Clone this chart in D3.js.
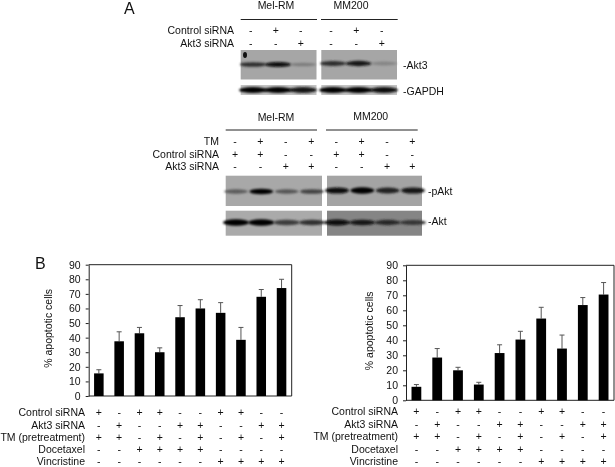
<!DOCTYPE html>
<html><head><meta charset="utf-8">
<script src="https://cdn.jsdelivr.net/npm/d3@7"></script>
<style>
html,body{margin:0;padding:0;background:#fff}
svg{display:block;filter:blur(0.4px)}
text{font-family:"Liberation Sans",Arial,sans-serif;fill:#111}
</style></head><body>
<svg id="c" width="615" height="467"></svg>
<script>
// ---- data ----
const treatments = ["Control siRNA","Akt3 siRNA","TM (pretreatment)","Docetaxel","Vincristine"];
const conditions = [0,1,2,3,4,5,6,7,8,9];
const leftValues  = [15.5,37.5,43,30,54,60,57,38.5,68,74];
const leftUpper   = [18,44,47,33,62,66,64,47,73,80];
const rightValues = [9,28.5,20,10.5,31.5,40.5,54.5,34.5,63.5,70.5];
const rightUpper  = [10.5,34.5,22,12,37,46,62,43.5,68.5,78.5];
const yTicks = [0,10,20,30,40,50,60,70,80,90];
const rowControl = "+-++--++--";
const rowAkt3    = "-+--++--++";
const rowTM      = "++-+-+-+-+";
const rowDoce    = "--++++----";
const rowVinc    = "------++++";
const bRows = [rowControl,rowAkt3,rowTM,rowDoce,rowVinc];
const cellLines = ["Mel-RM","MM200"];
const aTopLabels = ["Control siRNA","Akt3 siRNA"];
const aTopRows = ["-+-","--+"];
const aBotLabels = ["TM","Control siRNA","Akt3 siRNA"];
const aBotRows = ["-+-+","++--","--++"];
// band intensity (0 none – 1 black) per lane
const akt3Mel = [.72,.95,.25], akt3MM = [.72,.85,.2];
const gapdhMel = [1,1,.9], gapdhMM = [1,1,.95];
const pAktMel = [.45,1,.5,.6], pAktMM = [.9,1,.8,.85];
const aktMel = [1,1,.65,.7], aktMM = [.95,.85,.7,.6];

const svg = d3.select("#c");
const defs = svg.append("defs");
defs.append("filter").attr("id","bl").attr("x","-30%").attr("y","-100%").attr("width","160%").attr("height","300%")
  .append("feGaussianBlur").attr("stdDeviation","1.3 1");
const ink = d3.scaleLinear().domain([0,1]);

function txt(x,y,s,anchor,size){
  return svg.append("text").attr("x",x).attr("y",y).attr("text-anchor",anchor||"start")
    .attr("dominant-baseline","central").attr("font-size",size||10.5).text(s);
}
function signRow(xs,y,row){
  [...row].forEach((c,i)=>txt(xs(i),y,c==="+"?"+":"-","middle",10.5));
}
// ---- blot panel ----
function blot(x0,x1,y0,y1,bg,vals,lanes,bandH,bandW,bandY){
  const g = svg.append("g");
  g.append("rect").attr("x",x0).attr("y",y0).attr("width",x1-x0).attr("height",y1-y0).attr("fill",bg);
  const x = d3.scalePoint().domain(d3.range(vals.length)).range(lanes);
  const c = ink.copy().range([bg,"#000"]);
  g.selectAll("ellipse").data(vals).join("ellipse")
    .attr("cx",(d,i)=>x(i)).attr("cy",bandY)
    .attr("rx",bandW).attr("ry",d=>bandH*(0.6+0.4*d))
    .attr("fill",d=>c(d)).attr("filter","url(#bl)");
  return g;
}
// ---- panel A top ----
txt(124,8,"A","start",16);
txt(276,5,cellLines[0],"middle",10.5);
txt(351,5,cellLines[1],"middle",10.5);
const hr=(a,b,y)=>svg.append("line").attr("x1",a).attr("x2",b).attr("y1",y).attr("y2",y).attr("stroke","#222").attr("stroke-width",1);
hr(240.7,317,19.5); hr(321,397.7,19.5);
const lanesA1 = d3.scalePoint().domain([0,1,2]).range([250.7,300.7]);
const lanesA2 = d3.scalePoint().domain([0,1,2]).range([331,381.7]);
aTopLabels.forEach((l,k)=>{
  const y = 30+k*13;
  txt(234,y,l,"end");
  signRow(lanesA1,y,aTopRows[k]); signRow(lanesA2,y,aTopRows[k]);
});
blot(240.7,316.5,50,79.5,"#a6a6a6",akt3Mel,[253,303],2.6,13,64.5)
  .append("ellipse").attr("cx",245).attr("cy",55).attr("rx",2).attr("ry",3).attr("fill","#111");
blot(321.3,397,50,79.5,"#a6a6a6",akt3MM,[333,384],2.8,13,63.5);
blot(240.7,316.5,85,95,"#c4c4c4",gapdhMel,[253,303],3,14,90);
blot(321.3,397,85,95,"#c4c4c4",gapdhMM,[333,384],3,14,90);
txt(403,65,"-Akt3"); txt(403,91,"-GAPDH");
// ---- panel A bottom ----
txt(276,117,cellLines[0],"middle",10.5);
txt(370.7,116,cellLines[1],"middle",10.5);
hr(225.7,317,130); hr(326,417.7,130);
const lanesB1 = d3.scalePoint().domain([0,1,2,3]).range([235,311.3]);
const lanesB2 = d3.scalePoint().domain([0,1,2,3]).range([336.3,412.3]);
aBotLabels.forEach((l,k)=>{
  const y = 141+k*12.7;
  txt(219,y,l,"end");
  signRow(lanesB1,y,aBotRows[k]); signRow(lanesB2,y,aBotRows[k]);
});
blot(225.7,322,175.7,206,"#a8a8a8",pAktMel,[236,312],2.8,12,191.5);
blot(327,422,175.7,206,"#a4a4a4",pAktMM,[337,413],3.2,12,190.5);
blot(225.7,322,210.7,235.7,"#aaaaaa",aktMel,[236,312],3.2,13,222.5);
blot(327,422,210.7,235.7,"#858585",aktMM,[337,413],3,13,222.5);
txt(428,191,"-pAkt"); txt(428,221,"-Akt");
// ---- panel B ----
txt(35,263,"B","start",16);
function barChart(x0,x1,yTop,yBot,vals,upper,rowYs,labelX,ylabX){
  const x = d3.scaleBand().domain(conditions).range([x0,x1]).paddingInner(0.53).paddingOuter(0.265);
  const y = d3.scaleLinear().domain([0,90]).range([yBot,yTop]);
  const g = svg.append("g");
  const ax = g.append("g").attr("transform",`translate(${x0},0)`)
    .call(d3.axisLeft(y).tickValues(yTicks).tickSize(3).tickPadding(5).tickSizeOuter(0));
  ax.selectAll("text").attr("font-size",10.5).attr("font-family",'"Liberation Sans",Arial,sans-serif').attr("fill","#111");
  ax.selectAll("line,path").attr("stroke","#222");
  g.append("path").attr("d",d3.line()([[x0,yTop],[x1,yTop],[x1,yBot],[x0,yBot]])).attr("fill","none").attr("stroke","#222");
  const cx = i=>x(i)+x.bandwidth()/2;
  conditions.forEach(i=>{
    g.append("line").attr("x1",cx(i)).attr("x2",cx(i)).attr("y1",y(vals[i])).attr("y2",y(upper[i])).attr("stroke","#555");
    g.append("line").attr("x1",cx(i)-2.5).attr("x2",cx(i)+2.5).attr("y1",y(upper[i])).attr("y2",y(upper[i])).attr("stroke","#555");
  });
  g.selectAll("rect.bar").data(vals).join("rect").attr("class","bar")
    .attr("x",(d,i)=>x(i)).attr("y",d=>y(d)).attr("width",x.bandwidth()).attr("height",d=>y(0)-y(d)).attr("fill","#000");
  svg.append("text").attr("transform",`translate(${ylabX},${(yTop+yBot)/2-2}) rotate(-90)`)
    .attr("text-anchor","middle").attr("dominant-baseline","central").attr("font-size",10.5).text("% apoptotic cells");
  treatments.forEach((t,k)=>{
    txt(labelX,rowYs[k],t,"end");
    signRow(cx,rowYs[k],bRows[k]);
  });
}
barChart(88.7,291.7,264.7,396,leftValues,leftUpper,[412,424.5,437,449,460.5],85,48);
barChart(406,614,265.3,400.3,rightValues,rightUpper,[411,423.5,436,448.5,460.5],398,369);
</script>
</body></html>
